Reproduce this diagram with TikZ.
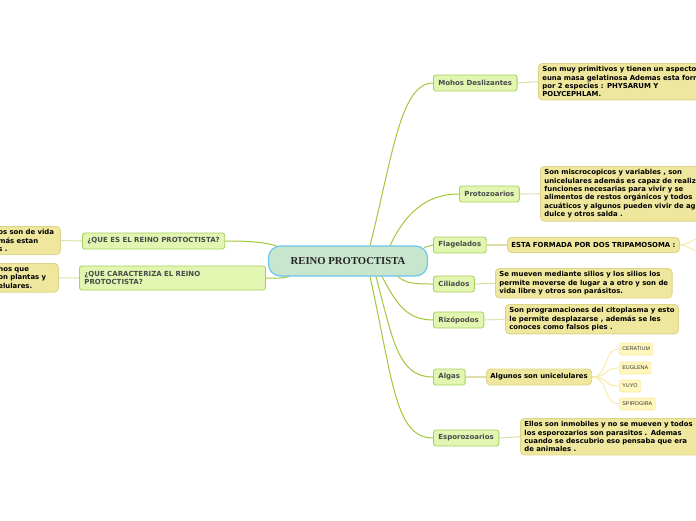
\documentclass[tikz,border=0pt]{standalone}
\usepackage{fontspec}
\setsansfont{DejaVu Sans}
\newfontfamily\rootfont{Liberation Serif}
\newfontfamily\leaffont{Liberation Sans}
\usetikzlibrary{calc,backgrounds}
\definecolor{rootfill}{HTML}{C8E6CD}
\definecolor{rootline}{HTML}{6CC3EC}
\definecolor{topicfill}{HTML}{E2F6B2}
\definecolor{topicline}{HTML}{A9D05B}
\definecolor{topictext}{HTML}{4A4A4A}
\definecolor{notefill}{HTML}{EEE79D}
\definecolor{noteline}{HTML}{DCD488}
\definecolor{leaffill}{HTML}{FFF7BE}
\definecolor{leafline}{HTML}{F6EAA2}
\definecolor{mainlink}{HTML}{A2C63A}
\definecolor{sublink}{HTML}{E0DFAE}
\definecolor{leaflink}{HTML}{F6E9A0}
\tikzset{
  rootbox/.style={draw=rootline, fill=rootfill, line width=1.2pt, rounded corners=12pt,
    minimum width=159pt, minimum height=30pt, text=black!85,
    font=\rootfont\bfseries\fontsize{10.7}{12}\selectfont},
  topic/.style={draw=topicline, fill=topicfill, line width=0.8pt, rounded corners=2.5pt,
    minimum height=16pt, inner xsep=5pt, anchor=west, text=topictext,
    font=\sffamily\bfseries\fontsize{7}{8.4}\selectfont},
  note/.style={draw=noteline, fill=notefill, line width=0.8pt, rounded corners=4pt,
    inner xsep=4pt, inner ysep=3pt, align=left, text=black,
    font=\sffamily\bfseries\fontsize{6.9}{8.4}\selectfont},
  leaf/.style={draw=leafline, fill=leaffill, line width=0.6pt, rounded corners=2.5pt,
    minimum height=12pt, inner xsep=3pt, anchor=west, text=black!80,
    font=\leaffont\fontsize{5.4}{6}\selectfont},
  mainedge/.style={draw=mainlink, line width=1pt},
  subedge/.style={draw=sublink, line width=1.1pt},
  leafedge/.style={draw=leaflink, line width=0.9pt}
}

\begin{document}
\begin{tikzpicture}[x=1pt, y=-1pt]
  \useasboundingbox (0,0) rectangle (696,520);
  \node[rootbox] (root) at (348,261) {REINO PROTOCTISTA};

  % left side
  \node[topic] (qes) at (82,241) {¿QUE ES EL REINO PROTOCTISTA?};
  \node[topic, text width=176pt, align=left, minimum height=24pt] (qcar) at (79,278)
    {¿QUE CARACTERIZA EL REINO\\PROTOCTISTA?};
  \node[note, anchor=north west, text width=58pt] (lnote1) at (-6,226)
    {os~son~de~vida\\más~estan\\s~.};
  \node[note, anchor=north west, text width=56pt, inner ysep=4pt] (lnote2) at (-6,263)
    {nos~que\\on~plantas~y\\elulares.};

  % right side
  \node[topic] (mohos) at (433,83) {Mohos Deslizantes};
  \node[topic] (proto) at (459,194) {Protozoarios};
  \node[topic] (flag) at (433,245) {Flagelados};
  \node[topic] (cil) at (433,284) {Ciliados};
  \node[topic] (riz) at (433,320) {Rizópodos};
  \node[topic] (algas) at (433,377) {Algas};
  \node[topic] (espo) at (433,438) {Esporozoarios};

  \node[note, anchor=north west, text width=180pt] (mohosnote) at (538,63)
    {Son muy primitivos y tienen un aspecto\\euna masa gelatinosa Ademas esta form\\por 2 especies : PHYSARUM Y\\POLYCEPHLAM.};
  \node[note, anchor=north west, text width=180pt] (protonote) at (540,166)
    {Son miscrocopicos y variables , son\\unicelulares además es capaz de realiz\\funciones necesarias para vivir y se\\alimentos de restos orgánicos y todos\\acuáticos y algunos pueden vivir de ag\\dulce y otros salda .};
  \node[note, anchor=west, minimum height=15pt] (flagnote) at (507,245)
    {ESTA FORMADA POR DOS TRIPAMOSOMA :};
  \node[note, anchor=north west] (cilnote) at (495,268)
    {Se mueven mediante silios y los silios los\\permite moverse de lugar a a otro y son de\\vida libre y otros son parásitos.};
  \node[note, anchor=north west] (riznote) at (505,304)
    {Son programaciones del citoplasma y esto\\le permite desplazarse , además se les\\conoces como falsos pies .};
  \node[note, anchor=west, minimum height=16pt] (algasnote) at (486,377)
    {Algunos son unicelulares};
  \node[note, anchor=north west, text width=186pt] (espnote) at (520,418)
    {Ellos son inmobiles y no se mueven y todos\\los esporozarios son parasitos . Ademas\\cuando se descubrio eso pensaba que era\\de animales .};

  \node[leaf] (cer) at (619,349) {CERATIUM};
  \node[leaf] (eug) at (619,368) {EUGLENA};
  \node[leaf] (yuyo) at (619,386) {YUYO};
  \node[leaf] (spir) at (619,404) {SPIROGIRA};

  \coordinate (flagout1) at (704,236);
  \coordinate (flagout2) at (704,254);

  \begin{scope}[on background layer]
    \draw[mainedge] ($(root.north west)+(10,1)$) .. controls +(-14,-5) and +(18,0) .. (qes.east);
    \draw[mainedge] ($(root.south west)+(21,0)$) .. controls +(-7,2) and +(10,0) .. (qcar.east);
    \draw[mainedge] ($(root.north)+(22,0)$) .. controls +(22,-86) and +(-33,0) .. (mohos.west);
    \draw[mainedge] ($(root.north)+(42,0)$) .. controls +(15,-31) and +(-34,0) .. (proto.west);
    \draw[mainedge] ($(root.north east)+(-4,2)$) -- (flag.west);
    \draw[mainedge] ($(root.south)+(49,-1)$) .. controls +(8,8) and +(-18,0) .. (cil.west);
    \draw[mainedge] ($(root.south)+(34,0)$) .. controls +(13,24) and +(-28,0) .. (riz.west);
    \draw[mainedge] ($(root.south)+(28,0)$) .. controls +(17,64) and +(-35,0) .. (algas.west);
    \draw[mainedge] ($(root.south)+(22,0)$) .. controls +(23,104) and +(-38,0) .. (espo.west);

    \draw[subedge] (lnote1.east) -- (qes.west);
    \draw[subedge] (lnote2.east) -- (qcar.west);
    \draw[subedge] (mohos.east) -- (mohosnote.west);
    \draw[subedge] (proto.east) -- (protonote.west);
    \draw[subedge] (flag.east) -- (flagnote.west);
    \draw[subedge] (cil.east) -- (cilnote.west);
    \draw[subedge] (riz.east) -- (riznote.west);
    \draw[subedge] (algas.east) -- (algasnote.west);
    \draw[subedge] (espo.east) -- (espnote.west);

    \foreach \leafname in {cer,eug,yuyo,spir}
      \draw[leafedge] (algasnote.east) .. controls +(16,0) and +(-16,0) .. (\leafname.west);
    \draw[leafedge] (flagnote.east) .. controls +(8,0) and +(-6,0) .. (flagout1);
    \draw[leafedge] (flagnote.east) .. controls +(8,0) and +(-6,0) .. (flagout2);
  \end{scope}
\end{tikzpicture}
\end{document}
